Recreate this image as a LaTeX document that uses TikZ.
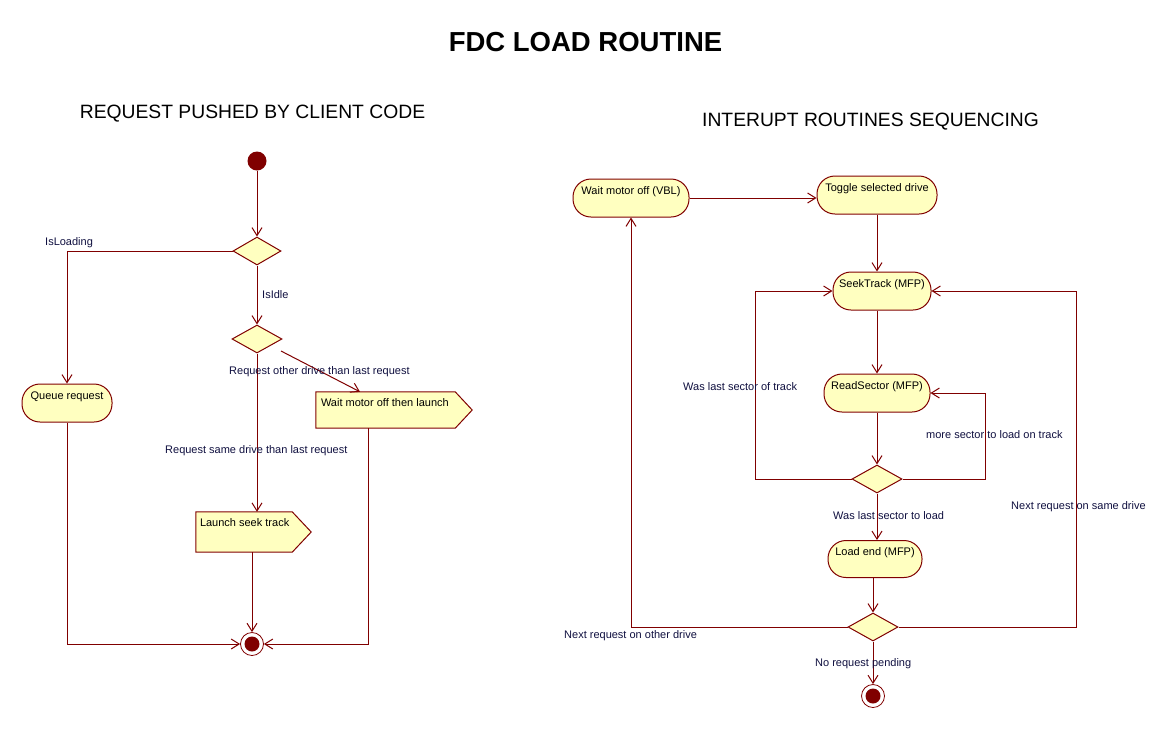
\documentclass[tikz,border=0pt]{standalone}
\usepackage{fontspec}
\setmainfont{Liberation Sans}
\usetikzlibrary{shapes.geometric,arrows.meta}
\definecolor{strk}{RGB}{128,0,0}
\definecolor{fillc}{RGB}{255,255,192}
\definecolor{labc}{RGB}{16,16,64}
\begin{document}
\begin{tikzpicture}[x=1pt,y=-1pt,
  every node/.style={font=\fontsize{11}{13}\selectfont},
  arr/.style={draw=strk, line width=1pt, -{Straight Barb[length=8pt,width=10pt,line width=1pt]}},
  actbox/.style={draw=strk, fill=fillc, line width=1pt, rounded corners=18pt, minimum height=38pt, inner sep=0pt, text height=8pt, text depth=16pt},
  dec/.style={diamond, draw=strk, fill=fillc, line width=1pt, minimum width=48pt, minimum height=28pt, inner sep=0pt},
  sighold/.style={rectangle, draw=none, inner sep=0pt},
  sigshape/.style={draw=strk, fill=fillc, line width=1pt},
  lab/.style={anchor=west, inner sep=0pt, text=labc},
  startnode/.style={circle, fill=strk, minimum size=19pt, inner sep=0pt},
  endnode/.style={circle, draw=strk, line width=0.8pt, fill=white, minimum size=23pt, inner sep=0pt}
]
\useasboundingbox (0,0) rectangle (1164,729);
\fill[white] (0,0) rectangle (1164,729);

% titles
\node[font=\bfseries\fontsize{27.5}{30}\selectfont] (title) at (585.5,42) {FDC LOAD ROUTINE};
\node[font=\fontsize{19.3}{22}\selectfont] (sub1) at (252.5,114) {REQUEST PUSHED BY CLIENT CODE};
\node[font=\fontsize{19.3}{22}\selectfont] (sub2) at (870.5,122) {INTERUPT ROUTINES SEQUENCING};

% ---------- left diagram ----------
\node[startnode] (start) at (257,161) {};
\node[dec] (d1) at (257,251) {};
\node[dec, minimum width=50pt] (d2) at (257,339) {};
\node[actbox, minimum width=90pt] (queue) at (67,403) {Queue request};

\node[sighold, minimum width=139pt, minimum height=36pt] (wml) at (385.5,410) {};
\path[sigshape] (wml.north west) -- (wml.north east) -- ([xshift=17]wml.east) -- (wml.south east) -- (wml.south west) -- cycle;
\node[anchor=west, inner sep=0pt] (wmltxt) at ([shift={(5,11)}]wml.north west) {Wait motor off then launch};

\node[sighold, minimum width=96pt, minimum height=40pt] (launch) at (244,532) {};
\path[sigshape] (launch.north west) -- (launch.north east) -- ([xshift=19]launch.east) -- (launch.south east) -- (launch.south west) -- cycle;
\node[anchor=west, inner sep=0pt] (launchtxt) at ([shift={(4,11)}]launch.north west) {Launch seek track};

\node[endnode] (fin1) at (252,644) {};
\fill[strk] (fin1) circle[radius=7.5];

\draw[arr] (start) -- (d1.north);
\draw[arr] (d1.west) -| (queue.north);
\draw[arr] (d1.south) -- (d2.north);
\draw[arr] ([shift={(24,12)}]d2.center) -- ([xshift=-25.5]wml.north);
\draw[arr] (d2.south) -- (d2.south |- launch.north);
\draw[arr] (launch.south -| fin1) -- (fin1.north);
\draw[arr] (queue.south) |- (fin1.west);
\draw[arr] ([xshift=-17.5]wml.south) |- (fin1.east);

\node[lab] (lIsLoading) at (45,243) {IsLoading};
\node[lab] (lIsIdle) at (262,295) {IsIdle};
\node[lab] (lOther) at (229,372) {Request other drive than last request};
\node[lab] (lSame) at (165,451) {Request same drive than last request};

% ---------- right diagram ----------
\node[actbox, minimum width=116pt] (wait) at (631,198) {Wait motor off (VBL)};
\node[actbox, minimum width=120pt] (toggle) at (877,195) {Toggle selected drive};
\node[actbox, minimum width=98pt] (seek) at (882,291) {SeekTrack (MFP)};
\node[actbox, minimum width=106pt] (read) at (877,393) {ReadSector (MFP)};
\node[dec, minimum width=50pt] (d3) at (877,479) {};
\node[actbox, minimum width=94pt, minimum height=37pt] (loadend) at (875,559) {Load end (MFP)};
\node[dec, minimum width=50pt] (d4) at (873,627) {};
\node[endnode] (fin2) at (873,696) {};
\fill[strk] (fin2) circle[radius=7.5];

\draw[arr] (wait.east) -- (wait.east -| toggle.west);
\draw[arr] (toggle.south) -- (toggle.south |- seek.north);
\draw[arr] (seek.south -| read.north) -- (read.north);
\draw[arr] (read.south) -- (d3.north);
\draw[arr] (d3.west) -- ++(-96,0) |- (seek.west);
\draw[arr] (d3.east) -- ++(83,0) |- (read.east);
\draw[arr] (d3.south) -- (d3.south |- loadend.north);
\draw[arr] (loadend.south -| d4.north) -- (d4.north);
\draw[arr] (d4.west) -| (wait.south);
\draw[arr] (d4.east) -- ++(178,0) |- (seek.east);
\draw[arr] (d4.south) -- (fin2.north);

\node[lab] (lTrack) at (683,387) {Was last sector of track};
\node[lab] (lMore) at (926,435) {more sector to load on track};
\node[lab] (lLast) at (833,516) {Was last sector to load};
\node[lab] (lSameDrive) at (1011,507) {Next request on same drive};
\node[lab] (lOtherDrive) at (564,636) {Next request on other drive};
\node[lab] (lNone) at (815,664) {No request pending};
\end{tikzpicture}
\end{document}
